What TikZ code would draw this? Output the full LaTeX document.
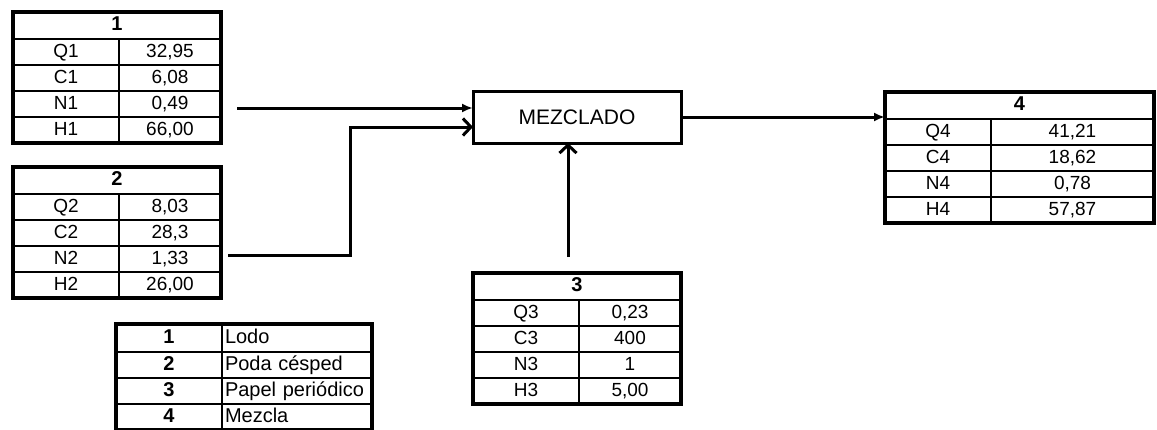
\documentclass[tikz,border=0pt]{standalone}
\usepackage{fontspec}
\setmainfont{Liberation Sans}
\usetikzlibrary{arrows.meta,positioning}
\tikzset{
  cellbox/.style={draw, line width=1.5pt, inner sep=0pt, outer sep=0pt,
                  minimum height=26pt, text height=14pt, text depth=4pt,
                  anchor=north west, font=\fontsize{19}{21}\selectfont},
  tabhead/.style={cellbox, minimum height=27pt, font=\fontsize{20}{22}\selectfont\bfseries},
  frame/.style={line width=3.5pt},
  mixbox/.style={draw, line width=3pt, minimum width=208pt, minimum height=52pt,
                 inner sep=0pt, outer sep=0pt, anchor=north west,
                 font=\fontsize{21}{23}\selectfont},
  legkey/.style={cellbox, minimum width=106pt, font=\fontsize{20}{22}\selectfont\bfseries},
  legtext/.style={cellbox, text width=144pt, inner xsep=3pt, align=left,
                  font=\fontsize{20}{22}\selectfont},
  flow/.style={-{Latex[length=11pt,width=9pt]}, line width=3pt},
  openflow/.style={-{Straight Barb[length=8pt,width=17pt]}, line width=3pt},
}
% stream table: name, corner, number, Q, C, N, H, value column width
\newcommand{\streamtab}[8]{%
  \node[tabhead, minimum width=106pt+#8] (#1h) at #2 {#3};
  \node[cellbox, minimum width=106pt] (#1q) at (#1h.south west) {Q#3};
  \node[cellbox, minimum width=#8] (#1qv) at (#1q.north east) {#4};
  \node[cellbox, minimum width=106pt] (#1c) at (#1q.south west) {C#3};
  \node[cellbox, minimum width=#8] (#1cv) at (#1c.north east) {#5};
  \node[cellbox, minimum width=106pt] (#1n) at (#1c.south west) {N#3};
  \node[cellbox, minimum width=#8] (#1nv) at (#1n.north east) {#6};
  \node[cellbox, minimum width=106pt] (#1x) at (#1n.south west) {H#3};
  \node[cellbox, minimum width=#8] (#1xv) at (#1x.north east) {#7};
  \draw[frame] (#1h.north west) rectangle (#1xv.south east);
}

\begin{document}
\begin{tikzpicture}[x=1pt, y=-1pt]
\useasboundingbox[fill=white] (0,0) rectangle (1157,429);

\streamtab{ta}{(13,12)}{1}{32,95}{6,08}{0,49}{66,00}{102pt}
\streamtab{tb}{(13,167)}{2}{8,03}{28,3}{1,33}{26,00}{102pt}
\streamtab{tc}{(473,273)}{3}{0,23}{400}{1}{5,00}{102pt}
\streamtab{td}{(885,92)}{4}{41,21}{18,62}{0,78}{57,87}{163pt}

\node[mixbox] (mez) at (473,91) {MEZCLADO};

% inputs
\coordinate (src1) at (237,108);
\coordinate (src2) at (228,255);
\coordinate (bend2) at (350,127);
\coordinate (src3) at (568,257);
\draw[flow] (src1) -- (src1 -| mez.west);
\draw[openflow] (src2) -| (bend2) -- (bend2 -| mez.west);
\draw[openflow] (src3) -- (src3 |- mez.south);
% output
\draw[flow] (mez.east) -- (mez.east -| tdh.west);

% legend
\node[legkey, minimum height=28pt] (k1) at (116,324) {1};
\node[legtext, minimum height=28pt] (l1) at (k1.north east) {Lodo};
\node[legkey] (k2) at (k1.south west) {2};
\node[legtext] (l2) at (k2.north east) {Poda césped};
\node[legkey] (k3) at (k2.south west) {3};
\node[legtext] (l3) at (k3.north east) {Papel periódico};
\node[legkey] (k4) at (k3.south west) {4};
\node[legtext] (l4) at (k4.north east) {Mezcla};
\draw[frame] (k1.north west) rectangle (l4.south east);
\end{tikzpicture}
\end{document}
